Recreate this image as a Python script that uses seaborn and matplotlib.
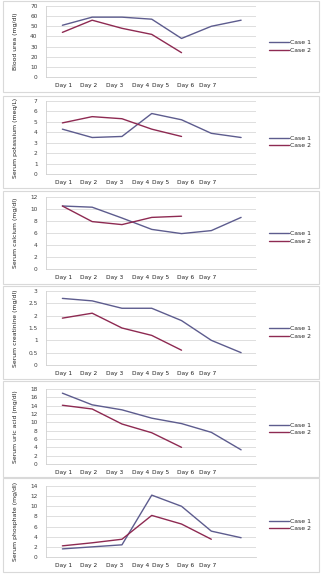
import numpy as np
import pandas as pd
import matplotlib
matplotlib.use("Agg")
import matplotlib.pyplot as plt
import seaborn as sns
from matplotlib.patches import Rectangle

days = ["Day 1", "Day 2", "Day 3", "Day 4", "Day 5", "Day 6", "Day 7"]

urea_case1 = [51, 59, 59, 57, 38, 50, 56]
urea_case2 = [44, 56, 48, 42, 24]
potassium_case1 = [4.3, 3.5, 3.6, 5.8, 5.2, 3.9, 3.5]
potassium_case2 = [4.9, 5.5, 5.3, 4.3, 3.6]
calcium_case1 = [10.5, 10.3, 8.5, 6.6, 5.9, 6.4, 8.6]
calcium_case2 = [10.5, 7.9, 7.4, 8.6, 8.8]
creatinine_case1 = [2.7, 2.6, 2.3, 2.3, 1.8, 1.0, 0.5]
creatinine_case2 = [1.9, 2.1, 1.5, 1.2, 0.6]
uric_case1 = [17, 14.2, 13, 11, 9.7, 7.6, 3.4]
uric_case2 = [14.1, 13.2, 9.6, 7.5, 4.0]
phosphate_case1 = [1.6, 2.0, 2.4, 12.2, 10.0, 5.1, 3.8]
phosphate_case2 = [2.2, 2.8, 3.5, 8.2, 6.5, 3.5]

ylabels = ["Blood urea (mg/dl)", "Serum potassium (meq/L)", "Serum calcium (mg/dl)",
           "Serum creatinine (mg/dl)", "Serum uric acid (mg/dl)", "Serum phosphate (mg/dl)"]
series = [(urea_case1, urea_case2), (potassium_case1, potassium_case2),
          (calcium_case1, calcium_case2), (creatinine_case1, creatinine_case2),
          (uric_case1, uric_case2), (phosphate_case1, phosphate_case2)]
yticks = [np.arange(0, 71, 10), np.arange(0, 8, 1), np.arange(0, 13, 2),
          np.arange(0, 3.01, 0.5), np.arange(0, 19, 2), np.arange(0, 15, 2)]

# label positions (layout) - labels in the original are not aligned with points
label_pos = [0.05, 0.87, 1.76, 2.63, 3.31, 4.15, 4.87]

sns.set_theme(style="white")
plt.rcParams['font.family'] = ['DejaVu Sans']

W, H = 322, 574
fig = plt.figure(figsize=(W / 100, H / 100), dpi=100)
fig.patch.set_facecolor("white")

# panel pixel geometry: (panel_top, panel_bottom, plot_top, plot_bottom)
panels = [(1, 92, 6, 77), (96, 188, 101, 174), (191, 284, 197, 269),
          (286, 379, 291, 365), (381, 477, 389, 464), (478, 572, 486, 557)]
plot_left, plot_right = 46, 256

pal = {"Case 1": "#5d5c8e", "Case 2": "#8e2a52"}

for i, ((c1, c2), yl, yt, (pt, pb, at, ab)) in enumerate(zip(series, ylabels, yticks, panels)):
    # panel border
    fig.patches.append(Rectangle((3 / W, 1 - pb / H), (W - 6) / W, (pb - pt) / H,
                                 transform=fig.transFigure, fill=False,
                                 edgecolor="#d9d9d9", linewidth=0.8))
    ax = fig.add_axes([plot_left / W, 1 - ab / H, (plot_right - plot_left) / W, (ab - at) / H])
    df = pd.DataFrame({
        "idx": list(range(len(c1))) + list(range(len(c2))),
        "value": c1 + c2,
        "Case": ["Case 1"] * len(c1) + ["Case 2"] * len(c2),
    })
    sns.lineplot(data=df, x="idx", y="value", hue="Case", palette=pal, ax=ax,
                 linewidth=1.0, legend=False)
    ax.set_xlim(-0.55, 6.5)
    ax.set_ylim(yt[0], yt[-1])
    ax.set_yticks(yt)
    ax.set_yticklabels([("%g" % v) for v in yt], fontsize=4.2, color="#404040")
    ax.set_xticks(label_pos)
    ax.set_xticklabels(days, fontsize=4.2, color="#202020")
    ax.tick_params(axis="x", length=0, pad=4)
    ax.tick_params(axis="y", length=0, pad=6)
    ax.grid(axis="y", color="#d9d9d9", linewidth=0.6)
    ax.set_axisbelow(True)
    for s in ["top", "right"]:
        ax.spines[s].set_visible(False)
    ax.spines["left"].set_color("#d0d0d0")
    ax.spines["left"].set_linewidth(0.6)
    ax.spines["bottom"].set_color("#d0d0d0")
    ax.spines["bottom"].set_linewidth(0.6)
    ax.set_xlabel("")
    ax.set_ylabel(yl, fontsize=4.4, color="#202020", labelpad=4)
    ax.yaxis.set_label_coords(-0.135, 0.5)
    handles = [plt.Line2D([], [], color=pal["Case 1"], lw=1.0),
               plt.Line2D([], [], color=pal["Case 2"], lw=1.0)]
    mid = (pt + pb) / 2
    fig.legend(handles, ["Case 1", "Case 2"], loc="center left",
               bbox_to_anchor=(266 / W, 1 - mid / H), frameon=False,
               fontsize=4.4, handlelength=3.2, handletextpad=0.3,
               labelspacing=0.35, borderpad=0)

fig.savefig("out.png", dpi=100, facecolor="white")
